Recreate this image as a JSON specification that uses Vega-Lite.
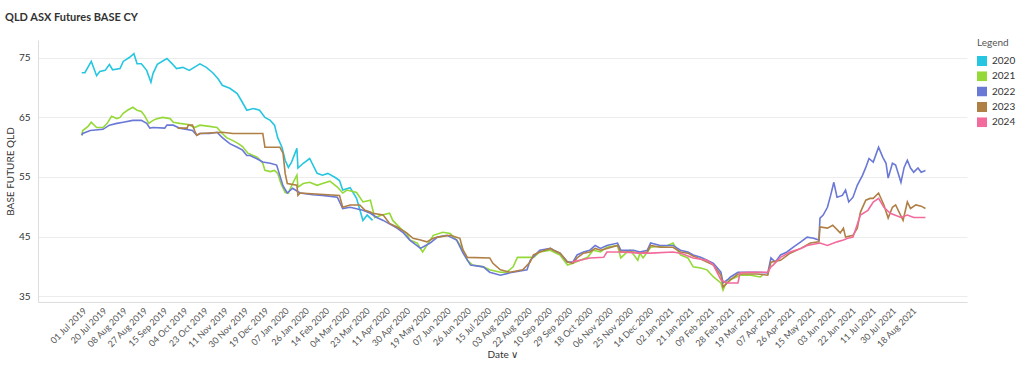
{
"$schema": "https://vega.github.io/schema/vega-lite/v6.json",
"width": 929, "height": 262,
"autosize": {"type": "none"},
"padding": {"left": 38, "top": 40, "right": 57, "bottom": 66},
"title": {"text": "QLD ASX Futures BASE CY", "anchor": "start", "frame": "group", "dx": -33, "offset": 15, "fontSize": 11, "font": "Lato", "fontWeight": "bold", "color": "#333"},
"config": {"font": "Lato", "view": {"stroke": null}},
"data": {"values": [
{"d":"2019-07-01","s":"2020","v":72.5},{"d":"2019-07-04","s":"2020","v":72.5},{"d":"2019-07-10","s":"2020","v":74.4},{"d":"2019-07-15","s":"2020","v":72.0},{"d":"2019-07-18","s":"2020","v":72.7},{"d":"2019-07-23","s":"2020","v":72.9},{"d":"2019-07-27","s":"2020","v":73.9},{"d":"2019-07-30","s":"2020","v":73.0},{"d":"2019-08-06","s":"2020","v":73.2},{"d":"2019-08-09","s":"2020","v":74.4},{"d":"2019-08-15","s":"2020","v":75.1},{"d":"2019-08-19","s":"2020","v":75.7},{"d":"2019-08-22","s":"2020","v":74.0},{"d":"2019-08-26","s":"2020","v":74.0},{"d":"2019-08-31","s":"2020","v":72.9},{"d":"2019-09-04","s":"2020","v":70.9},{"d":"2019-09-06","s":"2020","v":72.4},{"d":"2019-09-10","s":"2020","v":73.9},{"d":"2019-09-19","s":"2020","v":74.9},{"d":"2019-09-24","s":"2020","v":74.0},{"d":"2019-09-28","s":"2020","v":73.2},{"d":"2019-10-04","s":"2020","v":73.4},{"d":"2019-10-10","s":"2020","v":72.9},{"d":"2019-10-20","s":"2020","v":74.0},{"d":"2019-10-26","s":"2020","v":73.4},{"d":"2019-11-01","s":"2020","v":72.5},{"d":"2019-11-06","s":"2020","v":71.5},{"d":"2019-11-10","s":"2020","v":70.4},{"d":"2019-11-17","s":"2020","v":69.9},{"d":"2019-11-24","s":"2020","v":69.0},{"d":"2019-11-28","s":"2020","v":67.8},{"d":"2019-12-03","s":"2020","v":66.2},{"d":"2019-12-09","s":"2020","v":66.5},{"d":"2019-12-15","s":"2020","v":66.2},{"d":"2019-12-20","s":"2020","v":65.0},{"d":"2019-12-25","s":"2020","v":64.5},{"d":"2019-12-29","s":"2020","v":63.7},{"d":"2020-01-01","s":"2020","v":61.6},{"d":"2020-01-05","s":"2020","v":60.0},{"d":"2020-01-08","s":"2020","v":57.8},{"d":"2020-01-11","s":"2020","v":56.6},{"d":"2020-01-14","s":"2020","v":57.5},{"d":"2020-01-19","s":"2020","v":59.8},{"d":"2020-01-20","s":"2020","v":56.5},{"d":"2020-01-25","s":"2020","v":57.3},{"d":"2020-01-31","s":"2020","v":58.1},{"d":"2020-02-07","s":"2020","v":55.6},{"d":"2020-02-12","s":"2020","v":55.3},{"d":"2020-02-17","s":"2020","v":55.6},{"d":"2020-02-24","s":"2020","v":54.9},{"d":"2020-02-28","s":"2020","v":54.4},{"d":"2020-03-02","s":"2020","v":52.8},{"d":"2020-03-09","s":"2020","v":53.2},{"d":"2020-03-15","s":"2020","v":51.4},{"d":"2020-03-21","s":"2020","v":47.7},{"d":"2020-03-25","s":"2020","v":48.6},{"d":"2020-03-30","s":"2020","v":47.7},
{"d":"2019-07-01","s":"2021","v":62.0},{"d":"2019-07-02","s":"2021","v":62.8},{"d":"2019-07-07","s":"2021","v":63.5},{"d":"2019-07-10","s":"2021","v":64.2},{"d":"2019-07-15","s":"2021","v":63.3},{"d":"2019-07-21","s":"2021","v":63.3},{"d":"2019-07-25","s":"2021","v":64.0},{"d":"2019-07-29","s":"2021","v":65.2},{"d":"2019-08-03","s":"2021","v":64.8},{"d":"2019-08-06","s":"2021","v":65.0},{"d":"2019-08-09","s":"2021","v":65.7},{"d":"2019-08-13","s":"2021","v":66.2},{"d":"2019-08-18","s":"2021","v":66.7},{"d":"2019-08-22","s":"2021","v":66.2},{"d":"2019-08-26","s":"2021","v":66.0},{"d":"2019-08-29","s":"2021","v":65.3},{"d":"2019-09-02","s":"2021","v":64.0},{"d":"2019-09-06","s":"2021","v":64.5},{"d":"2019-09-10","s":"2021","v":64.8},{"d":"2019-09-15","s":"2021","v":65.0},{"d":"2019-09-22","s":"2021","v":64.8},{"d":"2019-09-25","s":"2021","v":64.2},{"d":"2019-10-01","s":"2021","v":64.0},{"d":"2019-10-09","s":"2021","v":63.8},{"d":"2019-10-15","s":"2021","v":63.3},{"d":"2019-10-20","s":"2021","v":63.7},{"d":"2019-10-29","s":"2021","v":63.5},{"d":"2019-11-05","s":"2021","v":63.3},{"d":"2019-11-10","s":"2021","v":62.3},{"d":"2019-11-14","s":"2021","v":61.6},{"d":"2019-11-20","s":"2021","v":61.1},{"d":"2019-11-25","s":"2021","v":60.6},{"d":"2019-11-29","s":"2021","v":60.1},{"d":"2019-12-04","s":"2021","v":59.0},{"d":"2019-12-09","s":"2021","v":58.6},{"d":"2019-12-13","s":"2021","v":58.3},{"d":"2019-12-18","s":"2021","v":57.3},{"d":"2019-12-20","s":"2021","v":56.1},{"d":"2019-12-25","s":"2021","v":55.9},{"d":"2019-12-29","s":"2021","v":56.1},{"d":"2020-01-01","s":"2021","v":55.6},{"d":"2020-01-04","s":"2021","v":53.9},{"d":"2020-01-08","s":"2021","v":52.4},{"d":"2020-01-11","s":"2021","v":52.3},{"d":"2020-01-15","s":"2021","v":53.9},{"d":"2020-01-19","s":"2021","v":55.3},{"d":"2020-01-20","s":"2021","v":53.3},{"d":"2020-01-25","s":"2021","v":53.9},{"d":"2020-01-31","s":"2021","v":54.1},{"d":"2020-02-07","s":"2021","v":53.6},{"d":"2020-02-12","s":"2021","v":53.9},{"d":"2020-02-19","s":"2021","v":54.3},{"d":"2020-02-26","s":"2021","v":53.3},{"d":"2020-03-02","s":"2021","v":52.3},{"d":"2020-03-06","s":"2021","v":52.8},{"d":"2020-03-15","s":"2021","v":52.4},{"d":"2020-03-21","s":"2021","v":50.8},{"d":"2020-03-28","s":"2021","v":51.1},{"d":"2020-04-01","s":"2021","v":48.2},{"d":"2020-04-08","s":"2021","v":48.6},{"d":"2020-04-15","s":"2021","v":48.9},{"d":"2020-04-18","s":"2021","v":47.7},{"d":"2020-04-25","s":"2021","v":46.4},{"d":"2020-05-01","s":"2021","v":45.5},{"d":"2020-05-04","s":"2021","v":44.4},{"d":"2020-05-11","s":"2021","v":43.9},{"d":"2020-05-16","s":"2021","v":42.4},{"d":"2020-05-25","s":"2021","v":44.9},{"d":"2020-05-26","s":"2021","v":45.2},{"d":"2020-06-04","s":"2021","v":45.7},{"d":"2020-06-11","s":"2021","v":45.5},{"d":"2020-06-17","s":"2021","v":44.4},{"d":"2020-06-23","s":"2021","v":42.7},{"d":"2020-06-27","s":"2021","v":41.0},{"d":"2020-07-02","s":"2021","v":40.2},{"d":"2020-07-12","s":"2021","v":39.9},{"d":"2020-07-18","s":"2021","v":39.4},{"d":"2020-07-28","s":"2021","v":39.0},{"d":"2020-08-03","s":"2021","v":39.0},{"d":"2020-08-09","s":"2021","v":39.9},{"d":"2020-08-13","s":"2021","v":41.5},{"d":"2020-08-18","s":"2021","v":41.5},{"d":"2020-08-28","s":"2021","v":41.5},{"d":"2020-09-03","s":"2021","v":42.4},{"d":"2020-09-13","s":"2021","v":42.7},{"d":"2020-09-16","s":"2021","v":42.4},{"d":"2020-09-22","s":"2021","v":41.9},{"d":"2020-09-29","s":"2021","v":40.2},{"d":"2020-10-04","s":"2021","v":40.5},{"d":"2020-10-11","s":"2021","v":41.0},{"d":"2020-10-18","s":"2021","v":41.5},{"d":"2020-10-23","s":"2021","v":42.7},{"d":"2020-10-30","s":"2021","v":42.4},{"d":"2020-11-05","s":"2021","v":43.2},{"d":"2020-11-15","s":"2021","v":43.5},{"d":"2020-11-18","s":"2021","v":41.4},{"d":"2020-11-24","s":"2021","v":42.4},{"d":"2020-11-27","s":"2021","v":42.7},{"d":"2020-12-04","s":"2021","v":41.0},{"d":"2020-12-06","s":"2021","v":42.2},{"d":"2020-12-09","s":"2021","v":41.4},{"d":"2020-12-16","s":"2021","v":43.2},{"d":"2021-01-01","s":"2021","v":43.5},{"d":"2021-01-06","s":"2021","v":43.9},{"d":"2021-01-13","s":"2021","v":41.9},{"d":"2021-01-20","s":"2021","v":41.4},{"d":"2021-01-25","s":"2021","v":39.9},{"d":"2021-02-01","s":"2021","v":39.7},{"d":"2021-02-07","s":"2021","v":39.4},{"d":"2021-02-13","s":"2021","v":38.2},{"d":"2021-02-20","s":"2021","v":37.2},{"d":"2021-02-22","s":"2021","v":36.0},{"d":"2021-02-26","s":"2021","v":37.7},{"d":"2021-03-04","s":"2021","v":38.0},{"d":"2021-03-10","s":"2021","v":38.5},{"d":"2021-03-20","s":"2021","v":38.5},{"d":"2021-03-29","s":"2021","v":38.2},{"d":"2021-03-31","s":"2021","v":38.5},
{"d":"2019-07-01","s":"2022","v":62.0},{"d":"2019-07-02","s":"2022","v":62.3},{"d":"2019-07-09","s":"2022","v":62.8},{"d":"2019-07-21","s":"2022","v":63.0},{"d":"2019-07-27","s":"2022","v":63.7},{"d":"2019-08-03","s":"2022","v":64.0},{"d":"2019-08-09","s":"2022","v":64.2},{"d":"2019-08-18","s":"2022","v":64.5},{"d":"2019-08-26","s":"2022","v":64.5},{"d":"2019-08-31","s":"2022","v":64.0},{"d":"2019-09-03","s":"2022","v":63.2},{"d":"2019-09-06","s":"2022","v":63.3},{"d":"2019-09-17","s":"2022","v":63.2},{"d":"2019-09-19","s":"2022","v":63.7},{"d":"2019-09-25","s":"2022","v":63.7},{"d":"2019-10-01","s":"2022","v":63.2},{"d":"2019-10-13","s":"2022","v":62.8},{"d":"2019-10-17","s":"2022","v":62.0},{"d":"2019-10-20","s":"2022","v":62.3},{"d":"2019-10-29","s":"2022","v":62.3},{"d":"2019-11-05","s":"2022","v":62.5},{"d":"2019-11-10","s":"2022","v":61.6},{"d":"2019-11-17","s":"2022","v":60.6},{"d":"2019-11-24","s":"2022","v":60.0},{"d":"2019-11-29","s":"2022","v":59.5},{"d":"2019-12-03","s":"2022","v":58.6},{"d":"2019-12-06","s":"2022","v":58.6},{"d":"2019-12-12","s":"2022","v":58.1},{"d":"2019-12-18","s":"2022","v":57.5},{"d":"2019-12-25","s":"2022","v":57.3},{"d":"2019-12-31","s":"2022","v":57.0},{"d":"2020-01-06","s":"2022","v":53.5},{"d":"2020-01-10","s":"2022","v":52.3},{"d":"2020-01-15","s":"2022","v":53.1},{"d":"2020-01-22","s":"2022","v":52.3},{"d":"2020-02-03","s":"2022","v":52.0},{"d":"2020-02-12","s":"2022","v":51.9},{"d":"2020-02-26","s":"2022","v":51.6},{"d":"2020-03-02","s":"2022","v":49.7},{"d":"2020-03-09","s":"2022","v":49.9},{"d":"2020-03-21","s":"2022","v":49.4},{"d":"2020-03-28","s":"2022","v":48.9},{"d":"2020-04-03","s":"2022","v":48.2},{"d":"2020-04-09","s":"2022","v":47.7},{"d":"2020-04-22","s":"2022","v":46.4},{"d":"2020-04-28","s":"2022","v":45.6},{"d":"2020-05-04","s":"2022","v":44.4},{"d":"2020-05-14","s":"2022","v":43.0},{"d":"2020-05-23","s":"2022","v":43.9},{"d":"2020-05-30","s":"2022","v":44.9},{"d":"2020-06-08","s":"2022","v":45.2},{"d":"2020-06-17","s":"2022","v":44.4},{"d":"2020-06-23","s":"2022","v":42.2},{"d":"2020-06-30","s":"2022","v":40.2},{"d":"2020-07-12","s":"2022","v":39.9},{"d":"2020-07-18","s":"2022","v":39.0},{"d":"2020-07-28","s":"2022","v":38.5},{"d":"2020-08-06","s":"2022","v":38.9},{"d":"2020-08-22","s":"2022","v":39.4},{"d":"2020-08-25","s":"2022","v":41.0},{"d":"2020-09-03","s":"2022","v":42.7},{"d":"2020-09-13","s":"2022","v":43.0},{"d":"2020-09-16","s":"2022","v":42.7},{"d":"2020-09-22","s":"2022","v":42.2},{"d":"2020-09-29","s":"2022","v":40.7},{"d":"2020-10-04","s":"2022","v":40.7},{"d":"2020-10-08","s":"2022","v":41.9},{"d":"2020-10-14","s":"2022","v":42.4},{"d":"2020-10-20","s":"2022","v":42.7},{"d":"2020-10-25","s":"2022","v":43.5},{"d":"2020-10-30","s":"2022","v":43.0},{"d":"2020-11-05","s":"2022","v":43.5},{"d":"2020-11-15","s":"2022","v":43.9},{"d":"2020-11-18","s":"2022","v":42.7},{"d":"2020-11-30","s":"2022","v":42.7},{"d":"2020-12-06","s":"2022","v":42.4},{"d":"2020-12-13","s":"2022","v":42.7},{"d":"2020-12-16","s":"2022","v":43.9},{"d":"2020-12-25","s":"2022","v":43.5},{"d":"2021-01-06","s":"2022","v":43.5},{"d":"2021-01-13","s":"2022","v":42.7},{"d":"2021-01-20","s":"2022","v":42.4},{"d":"2021-01-25","s":"2022","v":41.9},{"d":"2021-02-01","s":"2022","v":41.5},{"d":"2021-02-07","s":"2022","v":41.0},{"d":"2021-02-13","s":"2022","v":40.5},{"d":"2021-02-20","s":"2022","v":39.0},{"d":"2021-02-22","s":"2022","v":37.2},{"d":"2021-02-26","s":"2022","v":37.7},{"d":"2021-03-01","s":"2022","v":38.2},{"d":"2021-03-08","s":"2022","v":39.0},{"d":"2021-03-17","s":"2022","v":39.0},{"d":"2021-03-26","s":"2022","v":39.0},{"d":"2021-04-05","s":"2022","v":38.9},{"d":"2021-04-08","s":"2022","v":41.4},{"d":"2021-04-12","s":"2022","v":40.7},{"d":"2021-04-17","s":"2022","v":41.9},{"d":"2021-04-23","s":"2022","v":42.4},{"d":"2021-04-29","s":"2022","v":43.2},{"d":"2021-05-06","s":"2022","v":44.1},{"d":"2021-05-12","s":"2022","v":44.9},{"d":"2021-05-18","s":"2022","v":44.7},{"d":"2021-05-23","s":"2022","v":44.4},{"d":"2021-05-24","s":"2022","v":48.1},{"d":"2021-05-27","s":"2022","v":48.6},{"d":"2021-05-31","s":"2022","v":49.9},{"d":"2021-06-03","s":"2022","v":51.9},{"d":"2021-06-06","s":"2022","v":54.1},{"d":"2021-06-09","s":"2022","v":51.6},{"d":"2021-06-14","s":"2022","v":51.9},{"d":"2021-06-17","s":"2022","v":52.8},{"d":"2021-06-20","s":"2022","v":50.8},{"d":"2021-06-24","s":"2022","v":51.6},{"d":"2021-06-28","s":"2022","v":53.6},{"d":"2021-07-03","s":"2022","v":55.3},{"d":"2021-07-06","s":"2022","v":56.6},{"d":"2021-07-09","s":"2022","v":58.1},{"d":"2021-07-13","s":"2022","v":57.5},{"d":"2021-07-18","s":"2022","v":60.0},{"d":"2021-07-22","s":"2022","v":58.3},{"d":"2021-07-25","s":"2022","v":57.3},{"d":"2021-07-27","s":"2022","v":54.8},{"d":"2021-07-31","s":"2022","v":57.3},{"d":"2021-08-03","s":"2022","v":57.0},{"d":"2021-08-08","s":"2022","v":54.1},{"d":"2021-08-11","s":"2022","v":56.6},{"d":"2021-08-14","s":"2022","v":57.8},{"d":"2021-08-17","s":"2022","v":56.5},{"d":"2021-08-20","s":"2022","v":55.8},{"d":"2021-08-24","s":"2022","v":56.5},{"d":"2021-08-27","s":"2022","v":55.8},{"d":"2021-08-31","s":"2022","v":56.1},
{"d":"2019-09-29","s":"2023","v":63.2},{"d":"2019-10-08","s":"2023","v":63.2},{"d":"2019-10-09","s":"2023","v":63.7},{"d":"2019-10-13","s":"2023","v":63.7},{"d":"2019-10-15","s":"2023","v":62.8},{"d":"2019-10-17","s":"2023","v":62.0},{"d":"2019-10-20","s":"2023","v":62.3},{"d":"2019-11-10","s":"2023","v":62.5},{"d":"2019-11-20","s":"2023","v":62.3},{"d":"2019-12-18","s":"2023","v":62.3},{"d":"2019-12-20","s":"2023","v":60.0},{"d":"2020-01-03","s":"2023","v":60.0},{"d":"2020-01-06","s":"2023","v":59.0},{"d":"2020-01-08","s":"2023","v":55.6},{"d":"2020-01-10","s":"2023","v":53.9},{"d":"2020-01-19","s":"2023","v":53.6},{"d":"2020-01-20","s":"2023","v":51.9},{"d":"2020-01-22","s":"2023","v":52.3},{"d":"2020-02-28","s":"2023","v":51.9},{"d":"2020-03-02","s":"2023","v":49.9},{"d":"2020-03-09","s":"2023","v":50.3},{"d":"2020-03-18","s":"2023","v":50.3},{"d":"2020-03-23","s":"2023","v":49.4},{"d":"2020-03-28","s":"2023","v":49.1},{"d":"2020-03-30","s":"2023","v":48.9},{"d":"2020-04-09","s":"2023","v":48.6},{"d":"2020-04-15","s":"2023","v":47.2},{"d":"2020-04-22","s":"2023","v":46.6},{"d":"2020-05-01","s":"2023","v":45.6},{"d":"2020-05-07","s":"2023","v":44.7},{"d":"2020-05-14","s":"2023","v":44.4},{"d":"2020-05-20","s":"2023","v":44.1},{"d":"2020-05-26","s":"2023","v":44.7},{"d":"2020-05-30","s":"2023","v":44.9},{"d":"2020-06-11","s":"2023","v":45.2},{"d":"2020-06-20","s":"2023","v":44.7},{"d":"2020-06-23","s":"2023","v":42.7},{"d":"2020-06-27","s":"2023","v":41.5},{"d":"2020-07-18","s":"2023","v":41.4},{"d":"2020-07-21","s":"2023","v":40.5},{"d":"2020-07-28","s":"2023","v":39.4},{"d":"2020-08-06","s":"2023","v":39.0},{"d":"2020-08-18","s":"2023","v":39.4},{"d":"2020-08-25","s":"2023","v":40.7},{"d":"2020-08-28","s":"2023","v":41.9},{"d":"2020-09-03","s":"2023","v":42.4},{"d":"2020-09-13","s":"2023","v":43.0},{"d":"2020-09-16","s":"2023","v":42.7},{"d":"2020-09-22","s":"2023","v":42.2},{"d":"2020-09-29","s":"2023","v":40.7},{"d":"2020-10-04","s":"2023","v":40.5},{"d":"2020-10-08","s":"2023","v":41.4},{"d":"2020-10-14","s":"2023","v":42.2},{"d":"2020-10-20","s":"2023","v":42.4},{"d":"2020-10-25","s":"2023","v":43.0},{"d":"2020-10-30","s":"2023","v":42.7},{"d":"2020-11-05","s":"2023","v":43.0},{"d":"2020-11-15","s":"2023","v":43.5},{"d":"2020-11-18","s":"2023","v":42.4},{"d":"2020-11-30","s":"2023","v":42.4},{"d":"2020-12-06","s":"2023","v":42.2},{"d":"2020-12-13","s":"2023","v":42.4},{"d":"2020-12-16","s":"2023","v":43.5},{"d":"2020-12-25","s":"2023","v":43.2},{"d":"2021-01-06","s":"2023","v":43.2},{"d":"2021-01-13","s":"2023","v":42.4},{"d":"2021-01-20","s":"2023","v":42.2},{"d":"2021-01-25","s":"2023","v":41.7},{"d":"2021-02-01","s":"2023","v":41.2},{"d":"2021-02-07","s":"2023","v":40.7},{"d":"2021-02-13","s":"2023","v":40.2},{"d":"2021-02-20","s":"2023","v":38.5},{"d":"2021-02-22","s":"2023","v":36.5},{"d":"2021-02-26","s":"2023","v":37.2},{"d":"2021-03-01","s":"2023","v":37.7},{"d":"2021-03-08","s":"2023","v":38.7},{"d":"2021-03-17","s":"2023","v":38.7},{"d":"2021-03-26","s":"2023","v":38.7},{"d":"2021-04-05","s":"2023","v":38.5},{"d":"2021-04-08","s":"2023","v":40.7},{"d":"2021-04-17","s":"2023","v":41.0},{"d":"2021-04-26","s":"2023","v":42.2},{"d":"2021-05-06","s":"2023","v":43.0},{"d":"2021-05-15","s":"2023","v":43.9},{"d":"2021-05-23","s":"2023","v":44.1},{"d":"2021-05-24","s":"2023","v":46.6},{"d":"2021-05-31","s":"2023","v":46.4},{"d":"2021-06-05","s":"2023","v":46.9},{"d":"2021-06-12","s":"2023","v":45.6},{"d":"2021-06-15","s":"2023","v":46.4},{"d":"2021-06-17","s":"2023","v":44.9},{"d":"2021-06-24","s":"2023","v":45.2},{"d":"2021-06-28","s":"2023","v":46.4},{"d":"2021-07-01","s":"2023","v":49.1},{"d":"2021-07-06","s":"2023","v":51.1},{"d":"2021-07-10","s":"2023","v":51.4},{"d":"2021-07-13","s":"2023","v":51.4},{"d":"2021-07-18","s":"2023","v":52.3},{"d":"2021-07-23","s":"2023","v":50.3},{"d":"2021-07-27","s":"2023","v":48.1},{"d":"2021-07-31","s":"2023","v":49.9},{"d":"2021-08-03","s":"2023","v":50.3},{"d":"2021-08-10","s":"2023","v":47.7},{"d":"2021-08-14","s":"2023","v":50.8},{"d":"2021-08-17","s":"2023","v":49.7},{"d":"2021-08-22","s":"2023","v":50.3},{"d":"2021-08-27","s":"2023","v":50.1},{"d":"2021-08-31","s":"2023","v":49.7},
{"d":"2020-10-03","s":"2024","v":40.7},{"d":"2020-10-20","s":"2024","v":41.4},{"d":"2020-11-02","s":"2024","v":41.5},{"d":"2020-11-05","s":"2024","v":42.4},{"d":"2020-11-18","s":"2024","v":42.4},{"d":"2020-12-06","s":"2024","v":42.2},{"d":"2020-12-16","s":"2024","v":42.2},{"d":"2021-01-06","s":"2024","v":42.4},{"d":"2021-01-13","s":"2024","v":42.2},{"d":"2021-01-25","s":"2024","v":41.4},{"d":"2021-02-07","s":"2024","v":41.0},{"d":"2021-02-13","s":"2024","v":40.2},{"d":"2021-02-20","s":"2024","v":37.7},{"d":"2021-02-26","s":"2024","v":37.2},{"d":"2021-03-08","s":"2024","v":37.2},{"d":"2021-03-10","s":"2024","v":38.9},{"d":"2021-03-17","s":"2024","v":39.0},{"d":"2021-04-05","s":"2024","v":39.0},{"d":"2021-04-08","s":"2024","v":39.9},{"d":"2021-04-10","s":"2024","v":40.2},{"d":"2021-04-17","s":"2024","v":41.5},{"d":"2021-04-26","s":"2024","v":42.4},{"d":"2021-05-06","s":"2024","v":43.0},{"d":"2021-05-12","s":"2024","v":43.5},{"d":"2021-05-24","s":"2024","v":43.9},{"d":"2021-05-31","s":"2024","v":43.5},{"d":"2021-06-09","s":"2024","v":44.1},{"d":"2021-06-15","s":"2024","v":44.4},{"d":"2021-06-19","s":"2024","v":44.7},{"d":"2021-06-24","s":"2024","v":44.9},{"d":"2021-07-01","s":"2024","v":48.6},{"d":"2021-07-08","s":"2024","v":49.4},{"d":"2021-07-13","s":"2024","v":50.8},{"d":"2021-07-18","s":"2024","v":51.4},{"d":"2021-07-23","s":"2024","v":49.9},{"d":"2021-07-29","s":"2024","v":48.9},{"d":"2021-08-08","s":"2024","v":48.2},{"d":"2021-08-14","s":"2024","v":48.6},{"d":"2021-08-20","s":"2024","v":48.2},{"d":"2021-08-31","s":"2024","v":48.2}
]},
"mark": {"type": "line", "strokeWidth": 1.6},
"encoding": {
  "x": {"field": "d", "type": "temporal",
    "scale": {"type": "utc", "domain": [{"year": 2019, "month": 5, "date": 21, "utc": true}, {"year": 2021, "month": 10, "date": 9, "utc": true}]},
    "axis": {"values": [
      {"year":2019,"month":7,"date":1,"utc":true},{"year":2019,"month":7,"date":20,"utc":true},{"year":2019,"month":8,"date":8,"utc":true},{"year":2019,"month":8,"date":27,"utc":true},{"year":2019,"month":9,"date":15,"utc":true},{"year":2019,"month":10,"date":4,"utc":true},{"year":2019,"month":10,"date":23,"utc":true},{"year":2019,"month":11,"date":11,"utc":true},{"year":2019,"month":11,"date":30,"utc":true},{"year":2019,"month":12,"date":19,"utc":true},
      {"year":2020,"month":1,"date":7,"utc":true},{"year":2020,"month":1,"date":26,"utc":true},{"year":2020,"month":2,"date":14,"utc":true},{"year":2020,"month":3,"date":4,"utc":true},{"year":2020,"month":3,"date":23,"utc":true},{"year":2020,"month":4,"date":11,"utc":true},{"year":2020,"month":4,"date":30,"utc":true},{"year":2020,"month":5,"date":19,"utc":true},{"year":2020,"month":6,"date":7,"utc":true},{"year":2020,"month":6,"date":26,"utc":true},{"year":2020,"month":7,"date":15,"utc":true},{"year":2020,"month":8,"date":3,"utc":true},{"year":2020,"month":8,"date":22,"utc":true},{"year":2020,"month":9,"date":10,"utc":true},{"year":2020,"month":9,"date":29,"utc":true},{"year":2020,"month":10,"date":18,"utc":true},{"year":2020,"month":11,"date":6,"utc":true},{"year":2020,"month":11,"date":25,"utc":true},{"year":2020,"month":12,"date":14,"utc":true},
      {"year":2021,"month":1,"date":2,"utc":true},{"year":2021,"month":1,"date":21,"utc":true},{"year":2021,"month":2,"date":9,"utc":true},{"year":2021,"month":2,"date":28,"utc":true},{"year":2021,"month":3,"date":19,"utc":true},{"year":2021,"month":4,"date":7,"utc":true},{"year":2021,"month":4,"date":26,"utc":true},{"year":2021,"month":5,"date":15,"utc":true},{"year":2021,"month":6,"date":3,"utc":true},{"year":2021,"month":6,"date":22,"utc":true},{"year":2021,"month":7,"date":11,"utc":true},{"year":2021,"month":7,"date":30,"utc":true},{"year":2021,"month":8,"date":18,"utc":true}],
      "format": "%d %b %Y", "labelAngle": -45, "labelFontSize": 9, "labelColor": "#555", "labelPadding": 4, "labelOverlap": false, "labelFlush": false,
      "grid": false, "ticks": false, "domainColor": "#dddddd",
      "title": "Date ∨", "titleFontSize": 10, "titleFontWeight": "normal", "titleColor": "#333", "titlePadding": 0}},
  "y": {"field": "v", "type": "quantitative",
    "scale": {"domain": [34, 78], "nice": false, "zero": false},
    "axis": {"values": [35, 45, 55, 65, 75], "grid": true, "gridColor": "#ececec", "ticks": false, "domainColor": "#dddddd",
      "labelFontSize": 10, "labelColor": "#333", "labelPadding": 8,
      "title": "BASE FUTURE QLD", "titleFontSize": 10, "titleFontWeight": "normal", "titleColor": "#333", "titlePadding": 3}},
  "color": {"field": "s", "type": "nominal",
    "scale": {"domain": ["2020", "2021", "2022", "2023", "2024"], "range": ["#26c6e0", "#94d937", "#6a78d6", "#b07f45", "#f26b9c"]},
    "legend": {"title": "Legend", "orient": "none", "legendX": 939, "legendY": -2,
      "symbolType": "square", "symbolSize": 16, "symbolStrokeWidth": 6, "clipHeight": 10,
      "labelFontSize": 10, "labelColor": "#333", "labelOffset": 5,
      "titleFontSize": 10, "titleFontWeight": "normal", "titleColor": "#555", "titlePadding": 8, "rowPadding": 5.3}}
}
}
